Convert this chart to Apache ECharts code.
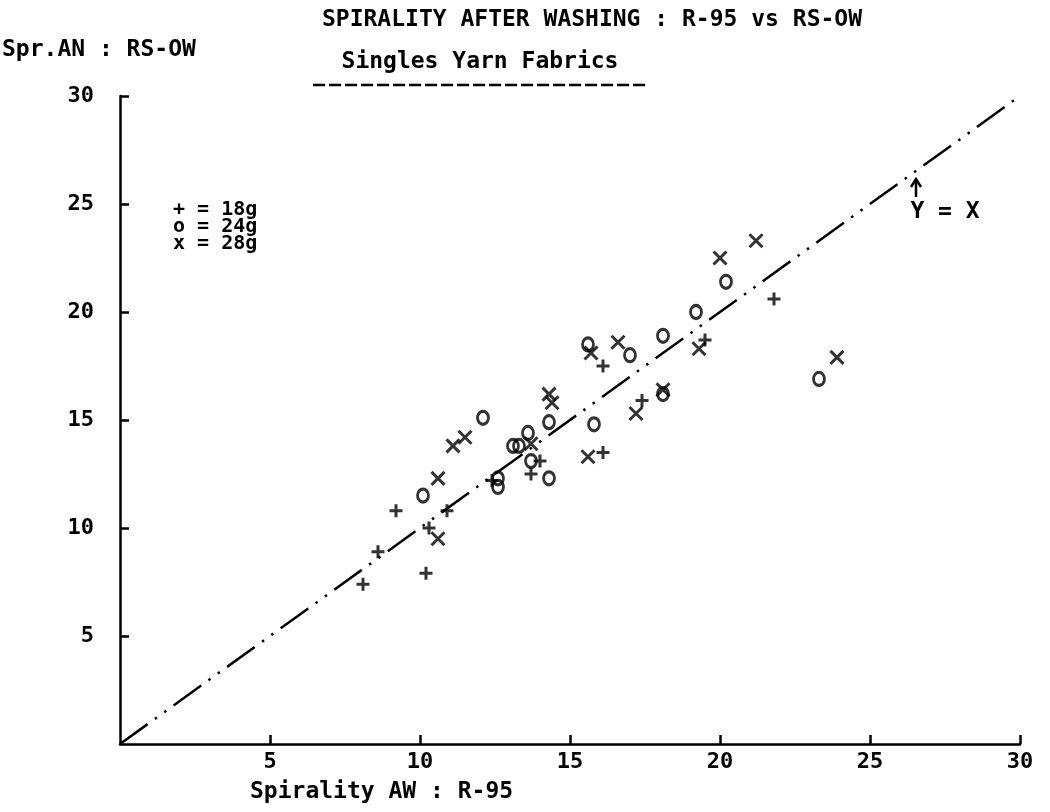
<!DOCTYPE html>
<html>
<head>
<meta charset="utf-8">
<script src="https://cdn.jsdelivr.net/npm/echarts@6/dist/echarts.min.js"></script>
<style>
  html, body { margin: 0; padding: 0; background: #fff; }
  #main { width: 1050px; height: 812px; }
</style>
</head>
<body>
<div id="main"></div>
<script>
// values: [Spirality AW R-95, Spr.AW RS-OW]
var yarn18g = [
  [8.1, 7.4], [8.6, 8.9], [9.2, 10.8], [10.2, 7.9], [10.3, 10.0], [10.9, 10.8],
  [12.4, 12.2], [13.7, 12.5], [14.0, 13.1], [16.1, 13.5], [16.1, 17.5],
  [17.4, 15.9], [19.5, 18.7], [21.8, 20.6]
];
var yarn24g = [
  [10.1, 11.5], [12.1, 15.1], [12.6, 12.3], [12.6, 11.9], [13.1, 13.8], [13.3, 13.8],
  [13.6, 14.4], [13.7, 13.1], [14.3, 14.9], [14.3, 12.3], [15.6, 18.5], [15.8, 14.8],
  [17.0, 18.0], [18.1, 18.9], [18.1, 16.2], [19.2, 20.0], [20.2, 21.4], [23.3, 16.9]
];
var yarn28g = [
  [10.6, 9.5], [10.6, 12.3], [11.1, 13.8], [11.5, 14.2], [13.7, 13.9], [14.3, 16.2],
  [14.4, 15.8], [15.6, 13.3], [15.7, 18.1], [16.6, 18.6], [17.2, 15.3], [18.1, 16.4],
  [19.3, 18.3], [20.0, 22.5], [21.2, 23.3], [23.9, 17.9]
];
var identityLine = [[0, 0], [30, 30]];
var legendLines = ["+ = 18g", "o = 24g", "x = 28g"];

var font = "DejaVu Sans Mono";
var txt = { fill: "#000", font: "bold 23px '" + font + "'" };
var legendTxt = { fill: "#000", font: "bold 20px '" + font + "'" };

var chart = echarts.init(document.getElementById("main"));

function markerStyle() {
  return { color: "rgba(0,0,0,0)", borderColor: "#000", borderWidth: 3 };
}

var axisCommon = {
  type: "value",
  min: 0,
  max: 30,
  interval: 5,
  axisLine: { show: true, lineStyle: { color: "#000", width: 2.5 } },
  axisTick: { show: true, inside: true, length: 9, lineStyle: { color: "#000", width: 2.5 } },
  splitLine: { show: false },
  axisLabel: {
    showMinLabel: false,
    color: "#000",
    fontFamily: font,
    fontSize: 22,
    fontWeight: "bold"
  }
};

var option = {
  backgroundColor: "#fff",
  animation: false,
  grid: { left: 120, right: 30, top: 96, bottom: 68 },
  xAxis: echarts.util.merge({ axisLabel: { margin: 7 } }, axisCommon, true),
  yAxis: echarts.util.merge({ axisLabel: { margin: 26 } }, axisCommon, true),
  series: [
    {
      type: "line",
      data: identityLine,
      symbol: "none",
      lineStyle: { color: "#000", width: 2.5, type: [34, 9, 2.5, 9, 2.5, 9] },
      z: 1
    },
    {
      name: "18g",
      type: "scatter",
      data: yarn18g,
      symbol: "path://M0,6H12M6,0V12",
      symbolSize: 13,
      itemStyle: markerStyle()
    },
    {
      name: "24g",
      type: "scatter",
      data: yarn24g,
      symbol: "circle",
      symbolSize: [11, 13],
      itemStyle: markerStyle()
    },
    {
      name: "28g",
      type: "scatter",
      data: yarn28g,
      symbol: "path://M0,0L12,12M12,0L0,12",
      symbolSize: 13,
      itemStyle: markerStyle()
    }
  ],
  graphic: [
    { type: "text", style: Object.assign({ x: 592, y: 20, text: "SPIRALITY AFTER WASHING : R-95 vs RS-OW", textAlign: "center", textVerticalAlign: "middle" }, txt) },
    { type: "text", style: Object.assign({ x: 2, y: 50, text: "Spr.AN : RS-OW", textAlign: "left", textVerticalAlign: "middle" }, txt) },
    { type: "text", style: Object.assign({ x: 480, y: 62, text: "Singles Yarn Fabrics", textAlign: "center", textVerticalAlign: "middle" }, txt) },
    { type: "line", shape: { x1: 313, y1: 85, x2: 646, y2: 85 }, style: { stroke: "#000", lineWidth: 2.5, lineDash: [12, 4] } },
    { type: "text", style: Object.assign({ x: 173, y: 210, text: legendLines[0], textAlign: "left", textVerticalAlign: "middle" }, legendTxt) },
    { type: "text", style: Object.assign({ x: 173, y: 227, text: legendLines[1], textAlign: "left", textVerticalAlign: "middle" }, legendTxt) },
    { type: "text", style: Object.assign({ x: 173, y: 244, text: legendLines[2], textAlign: "left", textVerticalAlign: "middle" }, legendTxt) },
    { type: "line", shape: { x1: 916, y1: 197, x2: 916, y2: 180 }, style: { stroke: "#000", lineWidth: 2.5 } },
    { type: "polyline", shape: { points: [[911, 187], [916, 179], [921, 187]] }, style: { stroke: "#000", lineWidth: 2.5, fill: null } },
    { type: "text", style: Object.assign({ x: 945, y: 212, text: "Y = X", textAlign: "center", textVerticalAlign: "middle" }, txt) },
    { type: "text", style: Object.assign({ x: 250, y: 792, text: "Spirality AW : R-95", textAlign: "left", textVerticalAlign: "middle" }, txt) }
  ]
};

chart.setOption(option);
</script>
</body>
</html>
